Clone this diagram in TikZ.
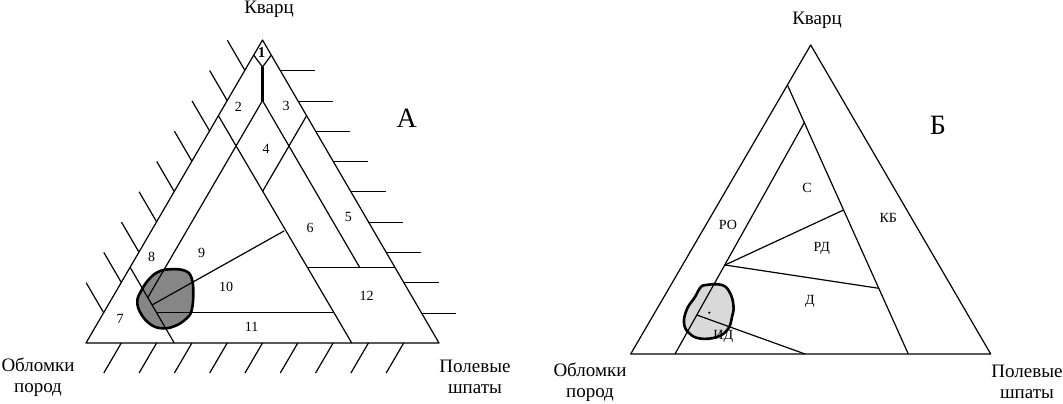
\documentclass[tikz,border=0pt]{standalone}
\usepackage{fontspec}
\setmainfont{Liberation Serif}
\begin{document}
\begin{tikzpicture}[x=1pt,y=-1pt, line join=round,
  ln/.style={line width=1.2pt},
  thickln/.style={line width=2.4pt},
  lbl/.style={font=\fontsize{19}{21}\selectfont, align=center, inner sep=0pt},
  num/.style={font=\fontsize{14}{14}\selectfont, inner sep=0pt},
  big/.style={font=\fontsize{28}{28}\selectfont, inner sep=0pt},
  blobline/.style={line width=2.6pt}]
\useasboundingbox (0,0) rectangle (1063,404);
\definecolor{darkblob}{HTML}{868686}
\definecolor{lightblob}{HTML}{D9D9D9}

% ---------- Left triangle (A) ----------
\coordinate (Q) at (262.5,40);
\coordinate (R) at (86,343);
\coordinate (F) at (439,343);
% blob fill
\path[fill=darkblob] plot[smooth cycle, tension=0.7] coordinates {(170,269.3) (185,270.7) (191.7,278.3) (193.3,293.3) (191.7,310) (186.7,318.3) (175,326) (161.7,328.3) (150,324) (140.7,313.3) (137.3,301.7) (140.7,291.7) (148.3,280) (158,272)};

\draw[ln] (Q) -- (R) -- (F) -- cycle;
% diamond 1
\coordinate (d1L) at (253.8,55.2);
\coordinate (d1B) at (262.5,67);
\coordinate (d1R) at (271.2,55.2);
\draw[ln] (d1L) -- (d1B) -- (d1R);
\coordinate (t4) at (262.5,100.6);
\draw[thickln] (d1B) -- (t4);
% key points
\coordinate (l4) at (236.0,146.0);
\coordinate (r4) at (288.9,146.0);
\coordinate (b4) at (262.5,191.5);
\coordinate (eL75) at (218.4,115.75);
\coordinate (eR75) at (306.6,115.75);
\coordinate (base25) at (351.75,343);
\coordinate (f10end) at (147.8,297.55);
\coordinate (r10end) at (359.6,267.25);
\coordinate (q25a) at (306.6,267.25);
\coordinate (q25b) at (394.9,267.25);
\coordinate (r75a) at (130.1,267.25);
\coordinate (r75b) at (174.25,343);
\coordinate (q10a) at (156.6,312.7);
\coordinate (q10b) at (333.1,312.7);
\coordinate (s9a) at (284,231);
\coordinate (s9b) at (152,305);
\draw[ln] (eL75) -- (base25);
\draw[ln] (eR75) -- (b4);
\draw[ln] (t4) -- (f10end);
\draw[ln] (t4) -- (r10end);
\draw[ln] (q25a) -- (q25b);
\draw[ln] (r75a) -- (r75b);
\draw[ln] (q10a) -- (q10b);
\draw[ln] (s9a) -- (s9b);
% blob outline
\draw[blobline] plot[smooth cycle, tension=0.7] coordinates {(170,269.3) (185,270.7) (191.7,278.3) (193.3,293.3) (191.7,310) (186.7,318.3) (175,326) (161.7,328.3) (150,324) (140.7,313.3) (137.3,301.7) (140.7,291.7) (148.3,280) (158,272)};
% ticks
\foreach \k in {1,...,9} {
  \draw[ln] ({86+17.65*\k},{343-30.3*\k}) -- ++(-17.5,-30);
  \draw[ln] ({439-17.65*\k},{round(343-30.3*\k)+0.5}) -- ++(35,0);
  \draw[ln] ({86+35.3*\k},343) -- ++(-17.5,30);
}
% labels
\node[inner sep=0pt, font=\fontsize{15}{15}\selectfont\bfseries] (n1) at (261.5,53) {1};
\node[num] (n2) at (238.3,106.7) {2};
\node[num] (n3) at (286,106) {3};
\node[num] (n4) at (266,149.3) {4};
\node[num] (n5) at (348.3,216.7) {5};
\node[num] (n6) at (310,228) {6};
\node[num] (n7) at (120,319.3) {7};
\node[num] (n8) at (151.7,256.7) {8};
\node[num] (n9) at (201.7,252.7) {9};
\node[num] (n10) at (226,287.3) {10};
\node[num] (n11) at (251.7,326.7) {11};
\node[num] (n12) at (366.7,296) {12};
\node[big] (A) at (406.7,118.3) {А};
\node[lbl] (kvL) at (269,9) {Кварц};
\node[lbl] (obL) at (38,377) {Обломки\\пород};
\node[lbl] (plL) at (475,377) {Полевые\\шпаты};

% ---------- Right triangle (B) ----------
\coordinate (Q2) at (810.7,45);
\coordinate (R2) at (630.7,354);
\coordinate (F2) at (990.7,354);
\path[fill=lightblob] plot[smooth cycle, tension=0.7] coordinates {(706,285) (722,285) (730,293) (733.5,306) (732,317) (728,329) (717,337) (700,338.5) (689,333) (684,323) (687,309) (695,297) (700,288)};
\draw[ln] (Q2) -- (R2) -- (F2) -- cycle;
\coordinate (a1t) at (787.4,85);
\coordinate (a1b) at (908.3,354);
\coordinate (a2t) at (804.8,121.7);
\coordinate (a2b) at (675,354);
\coordinate (a3) at (725,265);
\coordinate (a3u) at (843.6,210);
\coordinate (a3d) at (878.8,288.3);
\coordinate (a4) at (696.8,315);
\coordinate (a4b) at (805,354);
\draw[ln] (a1t) -- (a1b);
\draw[ln] (a2t) -- (a2b);
\draw[ln] (a3) -- (a3u);
\draw[ln] (a3) -- (a3d);
\draw[ln] (a4) -- (a4b);
\draw[blobline] plot[smooth cycle, tension=0.7] coordinates {(706,285) (722,285) (730,293) (733.5,306) (732,317) (728,329) (717,337) (700,338.5) (689,333) (684,323) (687,309) (695,297) (700,288)};
\fill (709.3,312.7) circle (1.2pt);
\node[num] (S) at (807,188) {С};
\node[num] (RO) at (728,225) {РО};
\node[num] (KB) at (888.3,218.3) {КБ};
\node[num] (RD) at (821.7,248.3) {РД};
\node[num] (D) at (810,301.7) {Д};
\node[num] (ID) at (723.3,336) {ИД};
\node[big] (B) at (938,125) {Б};
\node[lbl] (kvR) at (817,20) {Кварц};
\node[lbl] (obR) at (590,382) {Обломки\\пород};
\node[lbl] (plR) at (1027,382) {Полевые\\шпаты};
\end{tikzpicture}
\end{document}
